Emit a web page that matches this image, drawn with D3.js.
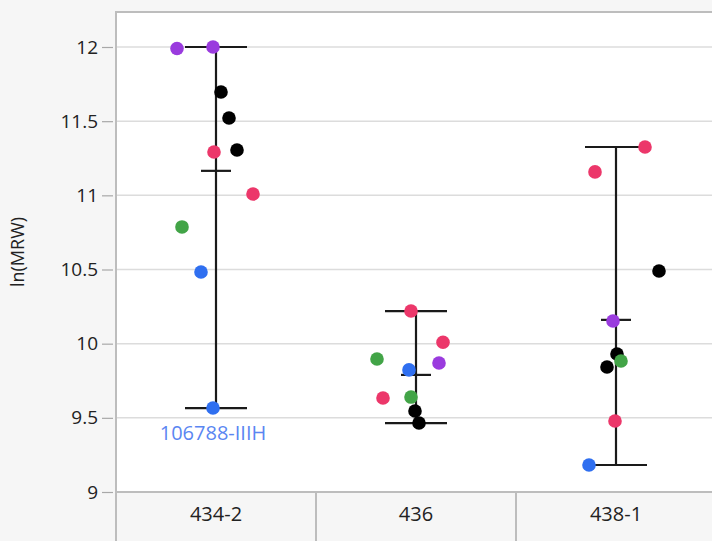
<!DOCTYPE html>
<html>
<head>
<meta charset="utf-8">
<script src="https://cdn.jsdelivr.net/npm/d3@7"></script>
<style>
  html, body { margin: 0; padding: 0; background: #f6f6f6; overflow: hidden; }
  text { font-family: "Open Sans", "Noto Sans", sans-serif; }
</style>
</head>
<body>
<div id="chart_div"></div>
<script>
const categories = ["434-2", "436", "438-1"];

const values4342 = [11.99, 12.0, 11.697, 11.521, 11.306, 11.292, 11.009, 10.787, 10.483, 9.566];
const colors4342 = ["purple", "purple", "black", "black", "black", "red", "red", "green", "blue", "blue"];
const jitter4342 = [-0.195, -0.015, 0.025, 0.065, 0.105, -0.01, 0.185, -0.17, -0.075, -0.015];
const labels4342 = ["", "", "", "", "", "", "", "", "", "106788-IIIH"];

const values436 = [10.22, 10.01, 9.897, 9.87, 9.823, 9.634, 9.64, 9.546, 9.465];
const colors436 = ["red", "red", "green", "purple", "blue", "red", "green", "black", "black"];
const jitter436 = [-0.025, 0.135, -0.195, 0.115, -0.035, -0.165, -0.025, -0.005, 0.015];

const values4381 = [11.326, 11.158, 10.49, 10.153, 9.93, 9.883, 9.843, 9.479, 9.182];
const colors4381 = ["red", "red", "black", "purple", "black", "green", "black", "red", "blue"];
const jitter4381 = [0.145, -0.105, 0.215, -0.015, 0.005, 0.025, -0.045, -0.005, -0.135];

const yTicks = [9, 9.5, 10, 10.5, 11, 11.5, 12];

const palette = { purple: "#9a3bde", red: "#ec376a", green: "#42a447", blue: "#2f6ff0", black: "#000000" };

const groups = [
    { cat: "434-2", values: values4342, colors: colors4342, jitter: jitter4342, labels: labels4342 },
    { cat: "436", values: values436, colors: colors436, jitter: jitter436, labels: [] },
    { cat: "438-1", values: values4381, colors: colors4381, jitter: jitter4381, labels: [] }
];

const width = 712;
const height = 541;
const plotLeft = 116;
const plotTop = 12;
const plotBottom = 492;
const plotRight = 716;

const svg = d3.select("#chart_div")
    .append("svg")
    .attr("width", width)
    .attr("height", height);

const x = d3.scaleBand()
    .domain(categories)
    .range([plotLeft, plotRight]);

const jit = d3.scaleLinear()
    .domain([-0.5, 0.5])
    .range([-x.bandwidth() / 2, x.bandwidth() / 2]);

const y = d3.scaleLinear()
    .domain([9, 12.236])
    .range([plotBottom, plotTop]);

// plot background
svg.append("rect")
    .attr("x", plotLeft).attr("y", plotTop)
    .attr("width", plotRight - plotLeft).attr("height", plotBottom - plotTop)
    .attr("fill", "#ffffff");

// gridlines
svg.append("g")
    .selectAll("line")
    .data(yTicks)
    .enter()
    .append("line")
    .attr("x1", plotLeft).attr("x2", plotRight)
    .attr("y1", d => y(d)).attr("y2", d => y(d))
    .attr("stroke", "#dcdcdc")
    .attr("stroke-width", 1.5);

// frame
svg.append("rect")
    .attr("x", plotLeft).attr("y", plotTop)
    .attr("width", plotRight - plotLeft).attr("height", plotBottom - plotTop)
    .attr("fill", "none")
    .attr("stroke", "#bdbdbd")
    .attr("stroke-width", 2);

// y axis
const yAxis = svg.append("g")
    .attr("transform", `translate(${plotLeft - 3},0)`)
    .call(d3.axisLeft(y).tickValues(yTicks).tickSize(11).tickPadding(4).tickFormat(d => String(d)));
yAxis.select(".domain").remove();
yAxis.selectAll(".tick line").attr("stroke", "#a8a8a8").attr("stroke-width", 1.2);
yAxis.selectAll(".tick text")
    .attr("fill", "#222")
    .style("font-size", "19px")
    .style("font-family", "'Open Sans', 'Noto Sans', sans-serif");

svg.append("text")
    .attr("transform", `translate(24,${(plotTop + plotBottom) / 2}) rotate(-90)`)
    .attr("text-anchor", "middle")
    .attr("fill", "#222")
    .style("font-size", "18px")
    .text("ln(MRW)");

// category boxes
const cats = svg.append("g")
    .selectAll("g")
    .data(categories)
    .enter()
    .append("g");
cats.append("rect")
    .attr("x", d => x(d)).attr("y", plotBottom)
    .attr("width", x.bandwidth()).attr("height", height - plotBottom + 5)
    .attr("fill", "#f6f6f6")
    .attr("stroke", "#bdbdbd")
    .attr("stroke-width", 2);
cats.append("text")
    .attr("x", d => x(d) + x.bandwidth() / 2)
    .attr("y", 516)
    .attr("text-anchor", "middle")
    .attr("dominant-baseline", "middle")
    .attr("fill", "#222")
    .style("font-size", "20px")
    .text(d => d);

// error bars: min, mean, max
const bars = svg.append("g")
    .selectAll("g")
    .data(groups)
    .enter()
    .append("g")
    .attr("stroke", "#1a1a1a")
    .attr("stroke-width", 2.2);
const cx = d => x(d.cat) + x.bandwidth() / 2;
bars.append("line")
    .attr("x1", cx).attr("x2", cx)
    .attr("y1", d => y(d3.min(d.values))).attr("y2", d => y(d3.max(d.values)));
bars.append("line")
    .attr("x1", d => cx(d) + jit(-0.155)).attr("x2", d => cx(d) + jit(0.155))
    .attr("y1", d => y(d3.max(d.values))).attr("y2", d => y(d3.max(d.values)));
bars.append("line")
    .attr("x1", d => cx(d) + jit(-0.155)).attr("x2", d => cx(d) + jit(0.155))
    .attr("y1", d => y(d3.min(d.values))).attr("y2", d => y(d3.min(d.values)));
bars.append("line")
    .attr("x1", d => cx(d) + jit(-0.075)).attr("x2", d => cx(d) + jit(0.075))
    .attr("y1", d => y(d3.mean(d.values))).attr("y2", d => y(d3.mean(d.values)));

// points
const points = groups.flatMap(g => g.values.map((v, i) => ({
    cat: g.cat, value: v, color: g.colors[i], jitter: g.jitter[i], label: g.labels[i] || ""
})));

svg.append("g")
    .selectAll("circle")
    .data(points)
    .enter()
    .append("circle")
    .attr("cx", d => x(d.cat) + x.bandwidth() / 2 + jit(d.jitter))
    .attr("cy", d => y(d.value))
    .attr("r", 6.8)
    .attr("fill", d => palette[d.color]);

svg.append("g")
    .selectAll("text")
    .data(points.filter(d => d.label))
    .enter()
    .append("text")
    .attr("x", d => x(d.cat) + x.bandwidth() / 2 + jit(d.jitter))
    .attr("y", d => y(d.value) + 27)
    .attr("text-anchor", "middle")
    .attr("dominant-baseline", "middle")
    .attr("fill", "#5a86f2")
    .style("font-size", "20px")
    .text(d => d.label);
</script>
</body>
</html>
